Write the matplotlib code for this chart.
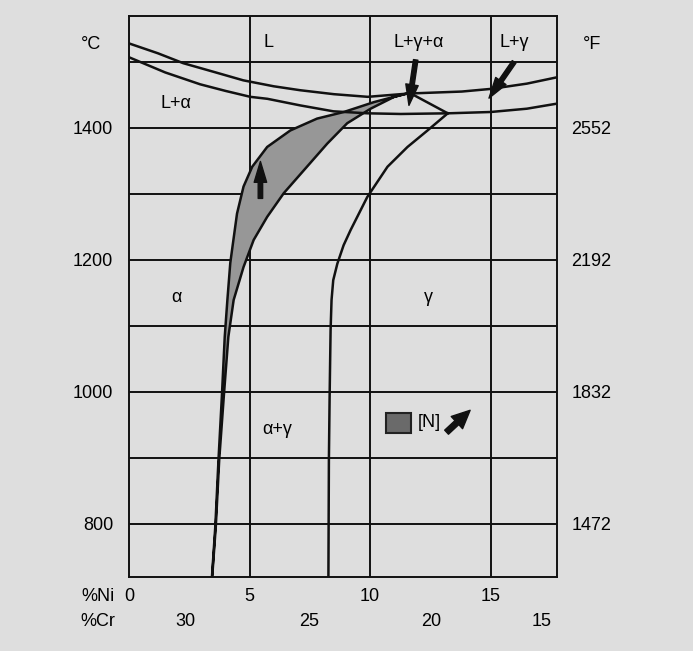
import numpy as np
import matplotlib.pyplot as plt
import matplotlib.transforms as mtransforms
from matplotlib.patches import Rectangle

plt.rcParams['font.family'] = ['Liberation Sans', 'DejaVu Sans']
plt.rcParams['font.size'] = 13

bg = '#dedede'
ink = '#111111'

# upper liquidus line (L / L+alpha , L / L+gamma)
ni_upper = [0.0, 1.2, 2.25, 3.5, 4.74, 6.0, 7.1, 8.5, 9.9, 11.6, 13.8, 15.0, 16.5, 17.8]
t_upper = [1528, 1513, 1498, 1485, 1472, 1463, 1457, 1451, 1447, 1452, 1455, 1459, 1467, 1477]

# lower line
ni_lower = [0.0, 1.5, 2.95, 4.0, 5.03, 5.74, 7.1, 8.48, 9.9, 11.27, 13.22, 15.0, 16.5, 17.8]
t_lower = [1507, 1484, 1466, 1456, 1447, 1444, 1434, 1425, 1422, 1421, 1422, 1424, 1429, 1437]

# grey band ([N] effect), outer and inner boundary, bottom to tip
ni_outer = [3.44, 3.58, 3.71, 3.85, 3.97, 4.08, 4.2, 4.3, 4.48, 4.75, 5.11, 5.73, 6.69, 7.8, 8.91, 10.16, 11.41, 11.64]
t_outer = [719, 796, 896, 992, 1083, 1139, 1195, 1222, 1270, 1311, 1341, 1371, 1396, 1414, 1424, 1439, 1451, 1453]
ni_inner = [3.45, 3.6, 3.74, 3.93, 4.12, 4.34, 4.75, 5.17, 5.73, 6.42, 7.26, 8.22, 9.05, 10.02, 11.0, 11.64]
t_inner = [719, 796, 896, 992, 1083, 1139, 1189, 1230, 1265, 1301, 1336, 1376, 1407, 1429, 1447, 1453]

# three phase triangle edge
ni_tri = [11.64, 13.22]
t_tri = [1453, 1422]

# gamma boundary
ni_gamma = [8.27, 8.29, 8.32, 8.36, 8.4, 8.47, 8.64, 8.9, 9.19, 9.88, 10.72, 11.55, 12.38, 13.22]
t_gamma = [719, 896, 992, 1093, 1139, 1169, 1194, 1222, 1245, 1295, 1341, 1371, 1396, 1422]

c_ticks = [800, 1000, 1200, 1400]
f_labels = ['1472', '1832', '2192', '2552']
ni_ticks = [0, 5, 10, 15]
cr_labels = ['30', '25', '20', '15']
cr_pos = [2.33, 7.48, 12.52, 17.1]

fig = plt.figure(figsize=(6.93, 6.51), dpi=100, facecolor=bg)
ax = fig.add_axes([129/693, 1 - 577/651, 428/693, 561.3/651])
ax.set_facecolor(bg)
ax.set_xlim(0, 17.75)
ax.set_ylim(719, 1570)

ygrid = np.arange(800, 1501, 100)
ax.set_yticks(ygrid)
ax.set_yticklabels([str(t) if t in c_ticks else '' for t in ygrid])
ax.set_xticks([5, 10, 15])
ax.set_xticklabels([])
ax.grid(True, color=ink, lw=1.4)
ax.set_axisbelow(True)
ax.tick_params(length=0, labelsize=13, pad=11.5)
for s in ax.spines.values():
    s.set_color(ink)
    s.set_linewidth(1.4)

ax2 = ax.twinx()
ax2.set_ylim(ax.get_ylim())
ax2.set_yticks(c_ticks)
ax2.set_yticklabels(f_labels)
ax2.tick_params(length=0, labelsize=13, pad=10.5)
for s in ax2.spines.values():
    s.set_visible(False)

# band
band_x = ni_outer + ni_inner[::-1]
band_y = t_outer + t_inner[::-1]
ax.fill(band_x, band_y, facecolor='#979797', edgecolor=ink, lw=1.8, zorder=3)

lw = 1.8
ax.plot(ni_upper, t_upper, color=ink, lw=lw, zorder=4)
ax.plot(ni_lower, t_lower, color=ink, lw=lw, zorder=4)
ax.plot(ni_tri, t_tri, color=ink, lw=lw, zorder=4)
ax.plot(ni_gamma, t_gamma, color=ink, lw=lw, zorder=4)

# arrows
arr = dict(arrowstyle='simple,head_width=0.9,head_length=1.5,tail_width=0.32',
           color=ink, mutation_scale=10, shrinkA=0, shrinkB=0)
ax.annotate('', xy=(5.45, 1349), xytext=(5.45, 1293), arrowprops=arr, zorder=5)
ax.annotate('', xy=(11.61, 1434), xytext=(11.89, 1503), arrowprops=arr, zorder=5)
ax.annotate('', xy=(14.93, 1445), xytext=(15.97, 1500), arrowprops=arr, zorder=5)

# region labels
ax.text(5.78, 1530, 'L', ha='center', va='center')
ax.text(12.0, 1530, 'L+γ+α', ha='center', va='center')
ax.text(15.97, 1530, 'L+γ', ha='center', va='center')
ax.text(1.95, 1437, 'L+α', ha='center', va='center')
ax.text(1.95, 1143, 'α', ha='center', va='center')
ax.text(12.43, 1143, 'γ', ha='center', va='center')
ax.text(6.15, 942, 'α+γ', ha='center', va='center')

# legend
ax.add_patch(Rectangle((0.600, 0.257), 0.060, 0.036, transform=ax.transAxes,
                       facecolor='#6a6a6a', edgecolor='#222222', lw=1.5, zorder=5))
ax.text(0.701, 0.275, '[N]', transform=ax.transAxes, ha='center', va='center')
arr2 = dict(arrowstyle='simple,head_width=1.2,head_length=1.3,tail_width=0.4',
            color=ink, mutation_scale=10, shrinkA=0, shrinkB=0)
ax.annotate('', xy=(0.797, 0.297), xytext=(0.742, 0.258),
            xycoords='axes fraction', arrowprops=arr2, zorder=5)

# unit labels
ax.text(-0.089, 0.948, '°C', transform=ax.transAxes, ha='center', va='center')
ax.text(1.082, 0.948, '°F', transform=ax.transAxes, ha='center', va='center')

# bottom composition scales
bt = mtransforms.blended_transform_factory(ax.transData, ax.transAxes)
ax.text(-0.072, -0.034, '%Ni', transform=ax.transAxes, ha='center', va='center')
ax.text(-0.072, -0.080, '%Cr', transform=ax.transAxes, ha='center', va='center')
for n in ni_ticks:
    ax.text(n, -0.034, str(n), transform=bt, ha='center', va='center')
for p, c in zip(cr_pos, cr_labels):
    ax.text(p, -0.080, c, transform=bt, ha='center', va='center')

fig.savefig('out.png', dpi=100, facecolor=bg)
